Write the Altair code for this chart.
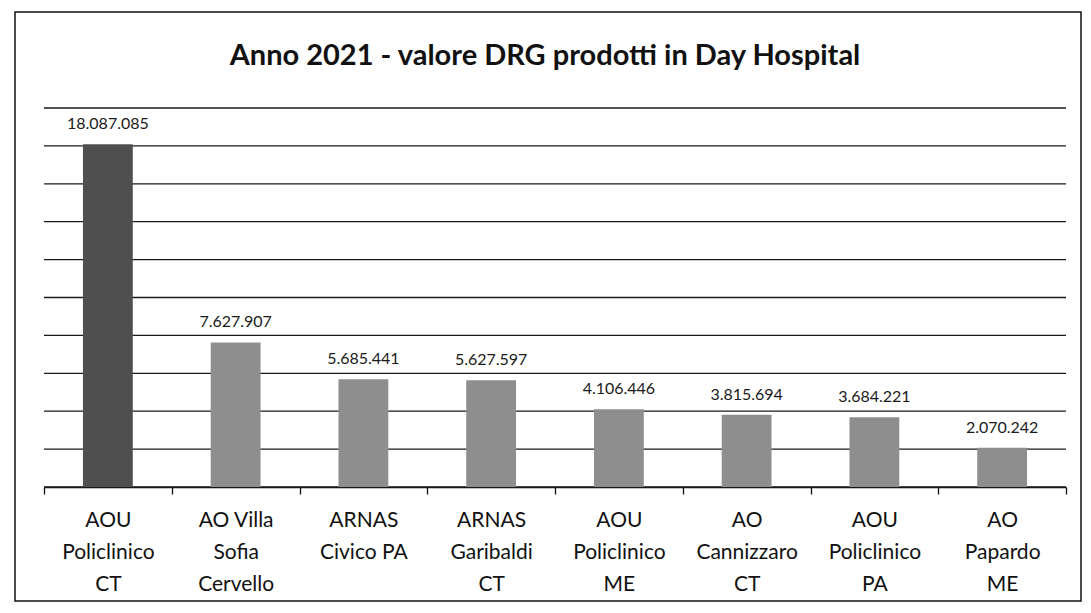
import altair as alt
import pandas as pd

# ---- data ----
enti = [
    "AOU|Policlinico|CT",
    "AO Villa|Sofia|Cervello",
    "ARNAS|Civico PA",
    "ARNAS|Garibaldi|CT",
    "AOU|Policlinico|ME",
    "AO|Cannizzaro|CT",
    "AOU|Policlinico|PA",
    "AO|Papardo|ME",
]
valori = [18087085, 7627907, 5685441, 5627597, 4106446, 3815694, 3684221, 2070242]
y_ticks = [0, 2000000, 4000000, 6000000, 8000000, 10000000,
           12000000, 14000000, 16000000, 18000000, 20000000]

df = pd.DataFrame({"ente": enti, "valore": valori})
df["etichetta"] = [f"{v:,}".replace(",", ".") for v in valori]
grid_df = pd.DataFrame({"valore": y_ticks})

FONT = "Lato"
PLOT_W, PLOT_H = 1022, 379

y_scale = alt.Scale(domain=[0, 20000000], nice=False)

x_enc = alt.X(
    "ente:N",
    sort=None,
    title=None,
    scale=alt.Scale(paddingInner=0, paddingOuter=0),
    axis=alt.Axis(
        labelExpr="split(datum.label, '|')",
        labelAngle=0,
        labelFont=FONT,
        labelFontSize=21,
        labelLineHeight=32,
        labelColor="#111111",
        labelPadding=15,
        labelBaseline="top",
        tickBand="extent",
        tickSize=7,
        tickColor="#111111",
        tickWidth=1.3,
        domainColor="#111111",
        domainWidth=1.6,
        grid=False,
    ),
)
y_enc = alt.Y(
    "valore:Q",
    title=None,
    scale=y_scale,
    axis=alt.Axis(labels=False, ticks=False, domain=False, grid=False),
)

grid = alt.Chart(grid_df).mark_rule(color="#1a1a1a", strokeWidth=1.3).encode(
    y=alt.Y("valore:Q", scale=y_scale, title=None,
            axis=alt.Axis(labels=False, ticks=False, domain=False, grid=False))
)

base = alt.Chart(df)

bars = base.mark_bar(width={"band": 0.39}).encode(
    x=x_enc,
    y=y_enc,
    color=alt.condition(
        "datum.ente == 'AOU|Policlinico|CT'",
        alt.value("#4f4f4f"),
        alt.value("#8e8e8e"),
    ),
)

text = base.mark_text(
    baseline="bottom", dy=-12, font=FONT, fontSize=16, color="#1a1a1a"
).encode(x=x_enc, y=y_enc, text="etichetta:N")

frame = alt.Chart(pd.DataFrame({"k": [0]})).mark_rect(
    fillOpacity=0, stroke="#111111", strokeWidth=1.5
).encode(
    x=alt.value(-29), x2=alt.value(1037), y=alt.value(-96), y2=alt.value(493)
)

chart = (
    alt.layer(grid, bars, text, frame)
    .properties(
        width=PLOT_W,
        height=PLOT_H,
        autosize=alt.AutoSizeParams(type="none"),
        padding={"left": 36, "top": 100, "right": 17, "bottom": 118},
        title=alt.TitleParams(
            "Anno 2021 - valore DRG prodotti in Day Hospital",
            font=FONT,
            fontSize=29,
            fontWeight="bold",
            color="#111111",
            anchor="middle",
            offset=-60,
            dx=-10,
        ),
    )
    .configure_view(strokeOpacity=0)
)

chart.save("out.html", embed_options={"renderer": "svg", "actions": False})
